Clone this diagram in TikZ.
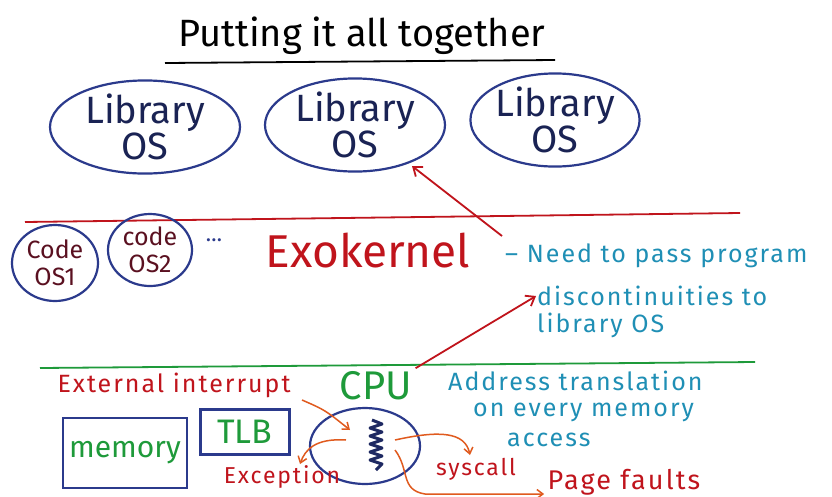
\documentclass[tikz,border=0pt]{standalone}
\usepackage{fontspec}
\setmainfont{Fira Sans}
\newfontfamily\widefont[LetterSpace=8]{Fira Sans}
\usetikzlibrary{arrows.meta,shapes.geometric}
\definecolor{eblue}{HTML}{2B3A8C}
\definecolor{ered}{HTML}{C0141C}
\definecolor{eteal}{HTML}{1F8FB5}
\definecolor{egreen}{HTML}{1E9A3A}
\definecolor{emaroon}{HTML}{5A1020}
\definecolor{eorange}{HTML}{E05A1E}
\begin{document}
\begin{tikzpicture}[x=1pt,y=-1pt,
  oval/.style={draw=eblue,line width=2.2pt,ellipse,inner sep=0pt,align=center},
  libtext/.style={font=\fontsize{38}{32}\selectfont,text=eblue!60!black},
  codetext/.style={text=emaroon,font=\fontsize{25}{27}\selectfont},
  hwbox/.style={draw=eblue,line width=2.2pt,rectangle},
  teal/.style={text=eteal,font=\widefont\fontsize{25}{27}\selectfont,anchor=west,inner sep=1pt},
  redlbl/.style={text=ered,font=\widefont\fontsize{23}{25}\selectfont},
  redarrow/.style={draw=ered,line width=1.8pt,-{Straight Barb[length=8pt,width=12pt]}},
  orarrow/.style={draw=eorange,line width=1.5pt,-{Straight Barb[length=6pt,width=9pt]}},
  rule/.style={line width=1.8pt}]
\useasboundingbox (0,0) rectangle (832,496);
\fill[white] (0,0) rectangle (832,496);
% title
\node[font=\fontsize{38}{40}\selectfont] (title) at (362,36) {Putting it all together};
\draw[rule,black] (165,63) -- (555,60);
% library OSes
\node[oval,libtext,minimum width=190pt,minimum height=78pt] (lib1) at (145,127) {Library\\OS};
\node[oval,libtext,minimum width=180pt,minimum height=76pt] (lib2) at (355,125) {Library\\OS};
\node[oval,libtext,minimum width=156pt,minimum height=76pt] (lib3) at (555,120) {Library\\OS};
% exokernel layer
\draw[rule,ered] (25,222) -- (740,213);
\node[oval,codetext,minimum width=86pt,minimum height=76pt] (os1) at (55,263) {Code\\OS1};
\node[oval,codetext,minimum width=84pt,minimum height=72pt] (os2) at (150,250) {code\\OS2};
\node[text=eblue,font=\fontsize{22}{22}\selectfont] (dots) at (214,240) {\dots};
\node[text=ered,font=\fontsize{46}{48}\selectfont] (exo) at (368,251) {Exokernel};
\node[teal] (need1) at (504,256) {– Need to pass program};
\node[teal] (need2) at (536,296) {discontinuities to};
\node[teal] (need3) at (536,325) {library OS};
\coordinate (a1s) at (502,236);
\draw[redarrow] (a1s) -- (412,166);
% hardware layer
\draw[rule,egreen] (40,368) -- (755,362);
\node[redlbl,anchor=west,font=\widefont\fontsize{25}{27}\selectfont] (ext) at (54,385) {External interrupt};
\node[text=egreen,font=\fontsize{40}{42}\selectfont] (cpu) at (376,386) {CPU};
\node[teal] (addr1) at (447,381) {Address translation};
\node[teal] (addr2) at (472,412) {on every memory};
\node[teal] (addr3) at (506,440) {access};
\node[hwbox,minimum width=124pt,minimum height=70pt,text=egreen,font=\fontsize{30}{32}\selectfont] (mem) at (125,453) {memory};
\node[hwbox,minimum width=89pt,minimum height=45pt,text=egreen,font=\fontsize{34}{36}\selectfont] (tlb) at (245,432) {TLB};
\node[oval,minimum width=110pt,minimum height=76pt] (core) at (365,446) {};
\draw[eblue!70!black,line width=3pt,line join=round]
  (372,420) -- (382,424) -- (370,428) -- (382,432) -- (370,436) -- (382,440) -- (370,444)
  -- (382,448) -- (370,452) -- (382,456) -- (370,460) -- (382,464) -- (376,470);
\node[redlbl] (exc) at (282,477) {Exception};
\node[redlbl] (sys) at (476,469) {syscall};
\node[redlbl,font=\widefont\fontsize{27}{29}\selectfont] (pf) at (624,482) {Page faults};
\coordinate (cpuin) at (350,430);
\coordinate (extout) at (302,400);
\coordinate (excout) at (346,440);
\coordinate (sysout) at (395,440);
\coordinate (pfout) at (395,450);
\draw[orarrow] (extout) .. controls (325,410) .. (cpuin);
\draw[orarrow] (excout) .. controls (315,438) and (305,450) .. (300,464);
\draw[orarrow] (sysout) .. controls (440,430) and (465,432) .. (470,455);
\draw[orarrow] (pfout) .. controls (410,470) and (400,490) .. (425,494) -- (pf.west |- 0,494);
\draw[redarrow] (cpu.north east) -- (need2.west);
\end{tikzpicture}
\end{document}
